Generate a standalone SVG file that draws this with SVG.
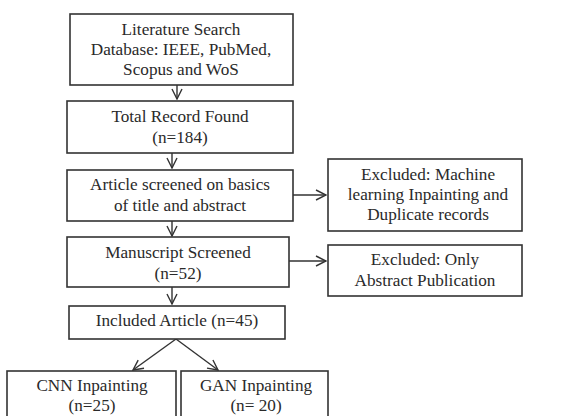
<svg xmlns="http://www.w3.org/2000/svg" width="576" height="416" viewBox="0 0 576 416">
<style>
.box{fill:#fff;stroke:#333;stroke-width:1.6}
.t{font-family:"Liberation Serif","Times New Roman",serif;font-size:17.2px;fill:#2a2a2a;text-anchor:middle}
.c{stroke:#333;stroke-width:1.4;fill:none}
</style>
<defs>
<marker id="ah" viewBox="0 0 12 12" refX="11" refY="6" markerWidth="12" markerHeight="12" markerUnits="userSpaceOnUse" orient="auto">
<polyline points="1,1 11,6 1,11" fill="none" stroke="#333" stroke-width="1.4"/>
</marker>
</defs>
<rect width="576" height="416" fill="#fff"/>
<g id="connectors">
<line class="c" x1="177" y1="85" x2="177" y2="99" marker-end="url(#ah)"/>
<line class="c" x1="172" y1="153" x2="172" y2="168" marker-end="url(#ah)"/>
<line class="c" x1="293" y1="195" x2="326" y2="195" marker-end="url(#ah)"/>
<line class="c" x1="172" y1="221" x2="172" y2="236" marker-end="url(#ah)"/>
<line class="c" x1="289" y1="261" x2="326" y2="261" marker-end="url(#ah)"/>
<line class="c" x1="172" y1="287" x2="172" y2="304" marker-end="url(#ah)"/>
<line class="c" x1="176" y1="339" x2="133" y2="370" marker-end="url(#ah)"/>
<line class="c" x1="176" y1="339" x2="218" y2="370" marker-end="url(#ah)"/>
</g>
<g id="n1"><rect class="box" x="70" y="14" width="223" height="71"/>
<text class="t" x="181" y="35">Literature Search</text>
<text class="t" x="181" y="55">Database: IEEE, PubMed,</text>
<text class="t" x="181" y="75">Scopus and WoS</text></g>
<g id="n2"><rect class="box" x="67" y="101" width="226" height="52"/>
<text class="t" x="180" y="122">Total Record Found</text>
<text class="t" x="180" y="143">(n=184)</text></g>
<g id="n3"><rect class="box" x="67" y="170" width="226" height="51"/>
<text class="t" x="180" y="190">Article screened on basics</text>
<text class="t" x="180" y="211">of title and abstract</text></g>
<g id="n4"><rect class="box" x="328" y="159" width="194" height="72"/>
<text class="t" x="428" y="180">Excluded: Machine</text>
<text class="t" x="428" y="200">learning Inpainting and</text>
<text class="t" x="428" y="220">Duplicate records</text></g>
<g id="n5"><rect class="box" x="67" y="237" width="222" height="50"/>
<text class="t" x="178" y="258">Manuscript Screened</text>
<text class="t" x="178" y="279">(n=52)</text></g>
<g id="n6"><rect class="box" x="328" y="245" width="194" height="51"/>
<text class="t" x="425" y="265">Excluded: Only</text>
<text class="t" x="425" y="286">Abstract Publication</text></g>
<g id="n7"><rect class="box" x="69" y="306" width="216" height="33"/>
<text class="t" x="177" y="326">Included Article (n=45)</text></g>
<g id="n8"><rect class="box" x="7" y="371" width="169" height="60"/>
<text class="t" x="92" y="391">CNN Inpainting</text>
<text class="t" x="92" y="411">(n=25)</text></g>
<g id="n9"><rect class="box" x="181" y="371" width="147" height="60"/>
<text class="t" x="256" y="391">GAN Inpainting</text>
<text class="t" x="256" y="411">(n= 20)</text></g>
</svg>
